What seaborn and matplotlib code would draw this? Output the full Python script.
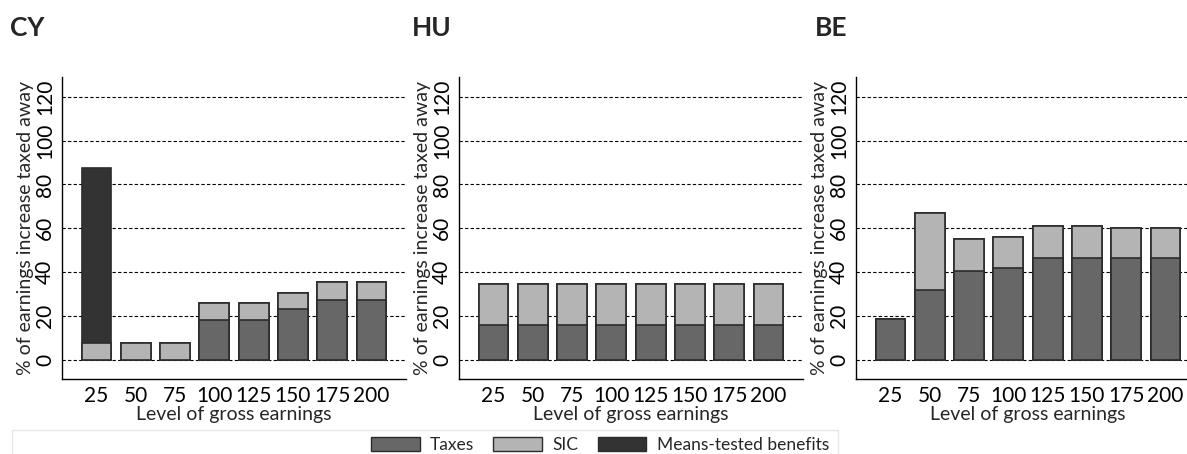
import matplotlib
matplotlib.use("Agg")
import matplotlib.pyplot as plt
from matplotlib.patches import Patch, Rectangle
import seaborn as sns
import pandas as pd

# Data (% of earnings increase taxed away)
levels = ["25", "50", "75", "100", "125", "150", "175", "200"]
countries = ["CY", "HU", "BE"]

cy_taxes = [0, 0, 0, 18, 18, 23, 27.5, 27.5]
cy_sic = [7.5, 7.5, 7.5, 8, 8, 7.5, 8, 8]
cy_benefits = [80, 0, 0, 0, 0, 0, 0, 0]

hu_taxes = [16, 16, 16, 16, 16, 16, 16, 16]
hu_sic = [18.5, 18.5, 18.5, 18.5, 18.5, 18.5, 18.5, 18.5]
hu_benefits = [0, 0, 0, 0, 0, 0, 0, 0]

be_taxes = [18.5, 32, 40.5, 42, 46.5, 46.5, 46.5, 46.5]
be_sic = [0, 35, 14.5, 14, 14.5, 14.5, 13.5, 13.5]
be_benefits = [0, 0, 0, 0, 0, 0, 0, 0]

series = {
    "CY": (cy_taxes, cy_sic, cy_benefits),
    "HU": (hu_taxes, hu_sic, hu_benefits),
    "BE": (be_taxes, be_sic, be_benefits),
}

col_tax = "#676767"
col_sic = "#b4b4b4"
col_ben = "#333333"
edge = "#2b2b2b"

sns.set_style("white")
plt.rcParams["font.family"] = ["Lato", "DejaVu Sans"]

W, H = 1187, 454
fig = plt.figure(figsize=(W / 100, H / 100), dpi=100)

lefts = [62, 459, 856]
title_x = [10, 412, 815]

for i, c in enumerate(countries):
    taxes, sic, ben = series[c]
    df = pd.DataFrame({"level": levels, "taxes": taxes, "sic": sic, "benefits": ben})
    df["cum_sic"] = df["taxes"] + df["sic"]
    df["cum_ben"] = df["cum_sic"] + df["benefits"]

    ax = fig.add_axes([lefts[i] / W, 1 - 379 / H, 344 / W, (379 - 77) / H])
    # layered bars give the stacked look
    sns.barplot(data=df, x="level", y="cum_ben", color=col_ben, width=0.76,
                edgecolor=edge, linewidth=1.2, saturation=1, ax=ax)
    sns.barplot(data=df, x="level", y="cum_sic", color=col_sic, width=0.76,
                edgecolor=edge, linewidth=1.2, saturation=1, ax=ax)
    sns.barplot(data=df[df["taxes"] > 0], x="level", y="taxes", order=levels,
                color=col_tax, width=0.76, edgecolor=edge, linewidth=1.2,
                saturation=1, ax=ax)

    ax.set_xlim(-0.88, 7.88)
    ax.set_ylim(-8.7, 129)
    ax.set_yticks([0, 20, 40, 60, 80, 100, 120])
    ax.yaxis.grid(True, linestyle=(0, (3, 2)), color="black", linewidth=0.8)
    ax.set_axisbelow(True)
    for s in ["top", "right"]:
        ax.spines[s].set_visible(False)
    for s in ["left", "bottom"]:
        ax.spines[s].set_color("black")
        ax.spines[s].set_linewidth(1.0)
    ax.tick_params(axis="both", length=0, labelsize=15, colors="black")
    ax.tick_params(axis="x", pad=5)
    ax.tick_params(axis="y", pad=5)
    plt.setp(ax.get_yticklabels(), rotation=90, va="center")
    ax.set_xlabel("Level of gross earnings", fontsize=14, labelpad=0)
    ax.set_ylabel("% of earnings increase taxed away", fontsize=14, labelpad=1)

    fig.text(title_x[i] / W, 1 - 28 / H, c, fontsize=19, fontweight="bold",
             ha="left", va="center")

# faint frame around legend area
fig.patches.append(Rectangle((12 / W, -0.05), (838 - 12) / W, (1 - 430 / H) + 0.05,
                             transform=fig.transFigure, fill=False,
                             edgecolor="#e6e6e6", linewidth=1))

handles = [Patch(facecolor=col_tax, edgecolor=edge, label="Taxes"),
           Patch(facecolor=col_sic, edgecolor=edge, label="SIC"),
           Patch(facecolor=col_ben, edgecolor=edge, label="Means-tested benefits")]
fig.legend(handles=handles, loc="center", ncol=3, frameon=False, fontsize=12.5,
           bbox_to_anchor=(600 / W, 1 - 445 / H), handlelength=2.8,
           handleheight=0.85, columnspacing=1.1, handletextpad=0.6)

fig.savefig("out.png", dpi=100)
